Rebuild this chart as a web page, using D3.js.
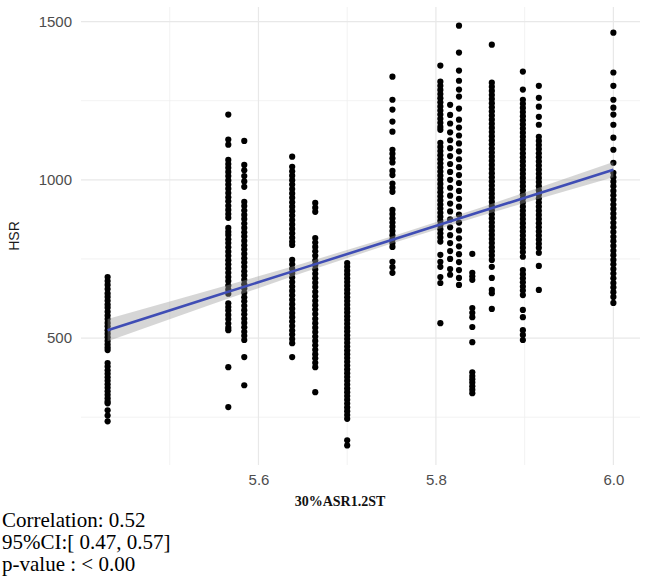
<!DOCTYPE html>
<html>
<head>
<meta charset="utf-8">
<script src="https://cdn.jsdelivr.net/npm/d3@7"></script>
<style>
  body { margin: 0; background: #fff; }
  svg { display: block; }
</style>
</head>
<body>
<div id="chart"></div>
<script>
// x positions of the point columns (30%ASR1.2ST)
const columnX = [5.43, 5.566, 5.584, 5.638, 5.664, 5.70, 5.751, 5.805, 5.816, 5.826, 5.841, 5.863, 5.898, 5.916, 6.0];

// HSR values for each column top to bottom
const col543 = [693, 680, 668, 655, 641, 630, 618, 606, 596, 583, 571, 560, 548, 537, 525, 514, 503, 491, 480, 470, 462, 421, 410, 398, 387, 376, 365, 354, 343, 332, 321, 310, 300, 294, 272, 255, 237];
const col5566 = [1206, 1127, 1111, 1063, 1050, 1038, 1025, 1012, 998, 985, 972, 958, 945, 932, 918, 905, 892, 880, 848, 836, 826, 812, 800, 787, 773, 760, 746, 733, 720, 706, 693, 680, 666, 653, 640, 610, 598, 587, 573, 560, 546, 533, 525, 408, 282];
const col5584 = [1123, 1047, 1030, 1012, 995, 978, 930, 917, 903, 889, 876, 862, 848, 834, 821, 807, 793, 780, 766, 752, 739, 725, 711, 698, 684, 670, 657, 643, 629, 616, 602, 588, 575, 561, 548, 534, 520, 507, 494, 440, 351];
const col5638 = [1073, 1041, 1027, 1013, 999, 985, 971, 957, 943, 929, 915, 901, 887, 873, 859, 845, 831, 817, 804, 794, 747, 733, 719, 705, 691, 677, 663, 649, 635, 621, 607, 593, 579, 566, 552, 538, 524, 511, 497, 484, 440];
const col5664 = [927, 912, 899, 816, 802, 788, 774, 760, 745, 731, 717, 703, 689, 675, 661, 646, 632, 618, 604, 590, 576, 561, 547, 533, 519, 505, 491, 477, 463, 449, 436, 422, 408, 329];
const col570 = [737, 725, 713, 701, 689, 677, 665, 653, 641, 629, 617, 605, 593, 581, 569, 557, 545, 533, 521, 509, 497, 485, 473, 461, 449, 437, 425, 413, 401, 389, 377, 365, 353, 341, 329, 317, 305, 293, 281, 269, 257, 245, 177, 161];
const col5751 = [1326, 1253, 1222, 1184, 1152, 1095, 1082, 1068, 1055, 1028, 1015, 988, 975, 962, 905, 892, 878, 865, 852, 838, 825, 812, 800, 788, 741, 724, 706];
const col5805 = [1361, 1310, 1297, 1284, 1271, 1258, 1245, 1232, 1219, 1206, 1193, 1180, 1167, 1158, 1117, 1104, 1091, 1078, 1065, 1052, 1039, 1026, 1013, 1000, 987, 974, 961, 948, 935, 922, 909, 896, 883, 870, 857, 844, 831, 818, 805, 763, 741, 725, 693, 674, 547];
const col5816 = [1237, 1205, 1178, 1150, 1125, 1100, 1075, 1050, 1025, 1000, 975, 950, 925, 900, 875, 850, 825, 800, 775, 750, 718, 700];
const col5826 = [1487, 1402, 1345, 1313, 1285, 1263, 1225, 1190, 1165, 1140, 1115, 1090, 1065, 1040, 1015, 990, 965, 940, 915, 890, 865, 840, 815, 790, 765, 740, 715, 690, 668];
const col5841 = [766, 706, 695, 684, 595, 580, 566, 535, 487, 392, 380, 370, 360, 348, 337, 326];
const col5863 = [1427, 1307, 1294, 1281, 1268, 1255, 1242, 1229, 1216, 1203, 1190, 1177, 1164, 1151, 1138, 1125, 1112, 1099, 1086, 1073, 1060, 1047, 1034, 1021, 1008, 995, 982, 969, 956, 943, 930, 917, 904, 891, 878, 865, 852, 839, 826, 813, 800, 787, 774, 761, 747, 725, 690, 652, 642, 592];
const col5898 = [1342, 1285, 1253, 1240, 1227, 1214, 1201, 1188, 1175, 1162, 1149, 1136, 1123, 1110, 1097, 1084, 1071, 1058, 1045, 1032, 1019, 1006, 993, 980, 967, 954, 941, 928, 915, 902, 889, 876, 863, 850, 837, 824, 811, 798, 785, 772, 757, 715, 702, 689, 676, 663, 650, 636, 589, 566, 525, 510, 494];
const col5916 = [1297, 1259, 1231, 1199, 1174, 1136, 1123, 1110, 1097, 1084, 1071, 1058, 1045, 1032, 1019, 1006, 993, 980, 967, 954, 941, 928, 915, 902, 889, 876, 863, 850, 837, 824, 811, 798, 785, 769, 728, 652];
const col600 = [1465, 1339, 1297, 1253, 1228, 1206, 1174, 1133, 1095, 1054, 1022, 1008, 994, 980, 965, 951, 937, 922, 908, 893, 879, 864, 850, 835, 820, 806, 791, 776, 762, 747, 733, 718, 704, 689, 674, 660, 645, 630, 611];

const columnY = [col543, col5566, col5584, col5638, col5664, col570, col5751, col5805, col5816, col5826, col5841, col5863, col5898, col5916, col600];

// linear fit with 95% band
const fitX = [5.43, 5.55, 5.65, 5.75, 5.85, 6.0];
const fitY = [525, 632, 721, 810, 899, 1032];
const fitLow = [490, 609, 706, 799, 886, 1008];
const fitHigh = [560, 655, 736, 821, 912, 1056];

const xTicks = [5.6, 5.8, 6.0];
const xMinor = [5.5, 5.7, 5.9];
const yTicks = [500, 1000, 1500];
const yMinor = [250, 750, 1250];

const statLines = ["Correlation: 0.52", "95%CI:[ 0.47, 0.57]", "p-value : < 0.00"];

const points = [];
columnX.forEach((cx, i) => columnY[i].forEach(v => points.push({x: cx, y: v})));

const W = 664, H = 581;
const panel = {left: 81, right: 640, top: 7, bottom: 465};

const svg = d3.select("#chart").append("svg")
    .attr("width", W)
    .attr("height", H);

const x = d3.scaleLinear().domain([5.4, 6.03]).range([panel.left, panel.right]);
const y = d3.scaleLinear().domain([99, 1546]).range([panel.bottom, panel.top]);

//grid
const grid = svg.append("g");
grid.selectAll(".ymin").data(yMinor).enter().append("line")
    .attr("x1", panel.left).attr("x2", panel.right)
    .attr("y1", d => y(d)).attr("y2", d => y(d))
    .attr("stroke", "#efefef").attr("stroke-width", 0.8);
grid.selectAll(".xmin").data(xMinor).enter().append("line")
    .attr("y1", panel.top).attr("y2", panel.bottom)
    .attr("x1", d => x(d)).attr("x2", d => x(d))
    .attr("stroke", "#efefef").attr("stroke-width", 0.8);
grid.selectAll(".ymaj").data(yTicks).enter().append("line")
    .attr("x1", panel.left).attr("x2", panel.right)
    .attr("y1", d => y(d)).attr("y2", d => y(d))
    .attr("stroke", "#e8e8e8").attr("stroke-width", 1.2);
grid.selectAll(".xmaj").data(xTicks).enter().append("line")
    .attr("y1", panel.top).attr("y2", panel.bottom)
    .attr("x1", d => x(d)).attr("x2", d => x(d))
    .attr("stroke", "#e8e8e8").attr("stroke-width", 1.2);

// axes: labels only, no domain or ticks
const yAxis = svg.append("g")
    .attr("transform", `translate(${panel.left},0)`)
    .call(d3.axisLeft(y).tickValues(yTicks).tickFormat(d3.format("d")).tickSize(0).tickPadding(9));
const xAxis = svg.append("g")
    .attr("transform", `translate(0,${panel.bottom})`)
    .call(d3.axisBottom(x).tickValues(xTicks).tickFormat(d3.format(".1f")).tickSize(0).tickPadding(9));
[xAxis, yAxis].forEach(a => {
    a.select(".domain").remove();
    a.selectAll("text")
        .style("font-family", "'Liberation Sans', Arial, sans-serif")
        .style("font-size", "15px")
        .style("fill", "#4d4d4d");
});

//points
svg.append("g").selectAll("circle")
    .data(points)
    .enter()
    .append("circle")
    .attr("cx", d => x(d.x))
    .attr("cy", d => y(d.y))
    .attr("r", 3.1)
    .attr("fill", "#000");

//fit band and line
const band = d3.area()
    .x((d, i) => x(fitX[i]))
    .y0((d, i) => y(fitLow[i]))
    .y1((d, i) => y(fitHigh[i]));
svg.append("path")
    .attr("d", band(fitX))
    .attr("fill", "#999999")
    .attr("fill-opacity", 0.4);

const line = d3.line()
    .x((d, i) => x(fitX[i]))
    .y((d, i) => y(fitY[i]));
svg.append("path")
    .attr("d", line(fitX))
    .attr("fill", "none")
    .attr("stroke", "#3f4db5")
    .attr("stroke-width", 2.6);

// axis titles
svg.append("text")
    .attr("transform", `translate(19,${(panel.top + panel.bottom) / 2}) rotate(-90)`)
    .attr("text-anchor", "middle")
    .style("font-family", "'Liberation Sans', Arial, sans-serif")
    .style("font-size", "14px")
    .style("fill", "#1a1a1a")
    .text("HSR");

svg.append("text")
    .attr("x", 340)
    .attr("y", 506)
    .attr("text-anchor", "middle")
    .style("font-family", "'Liberation Serif', 'Times New Roman', serif")
    .style("font-size", "14px")
    .style("font-weight", "bold")
    .style("fill", "#111")
    .text("30%ASR1.2ST");

//stats
svg.append("g").selectAll("text")
    .data(statLines)
    .enter()
    .append("text")
    .attr("x", 2)
    .attr("y", (d, i) => 527 + i * 22)
    .style("font-family", "'Liberation Serif', 'Times New Roman', serif")
    .style("font-size", "21px")
    .style("fill", "#000")
    .text(d => d);
</script>
</body>
</html>
